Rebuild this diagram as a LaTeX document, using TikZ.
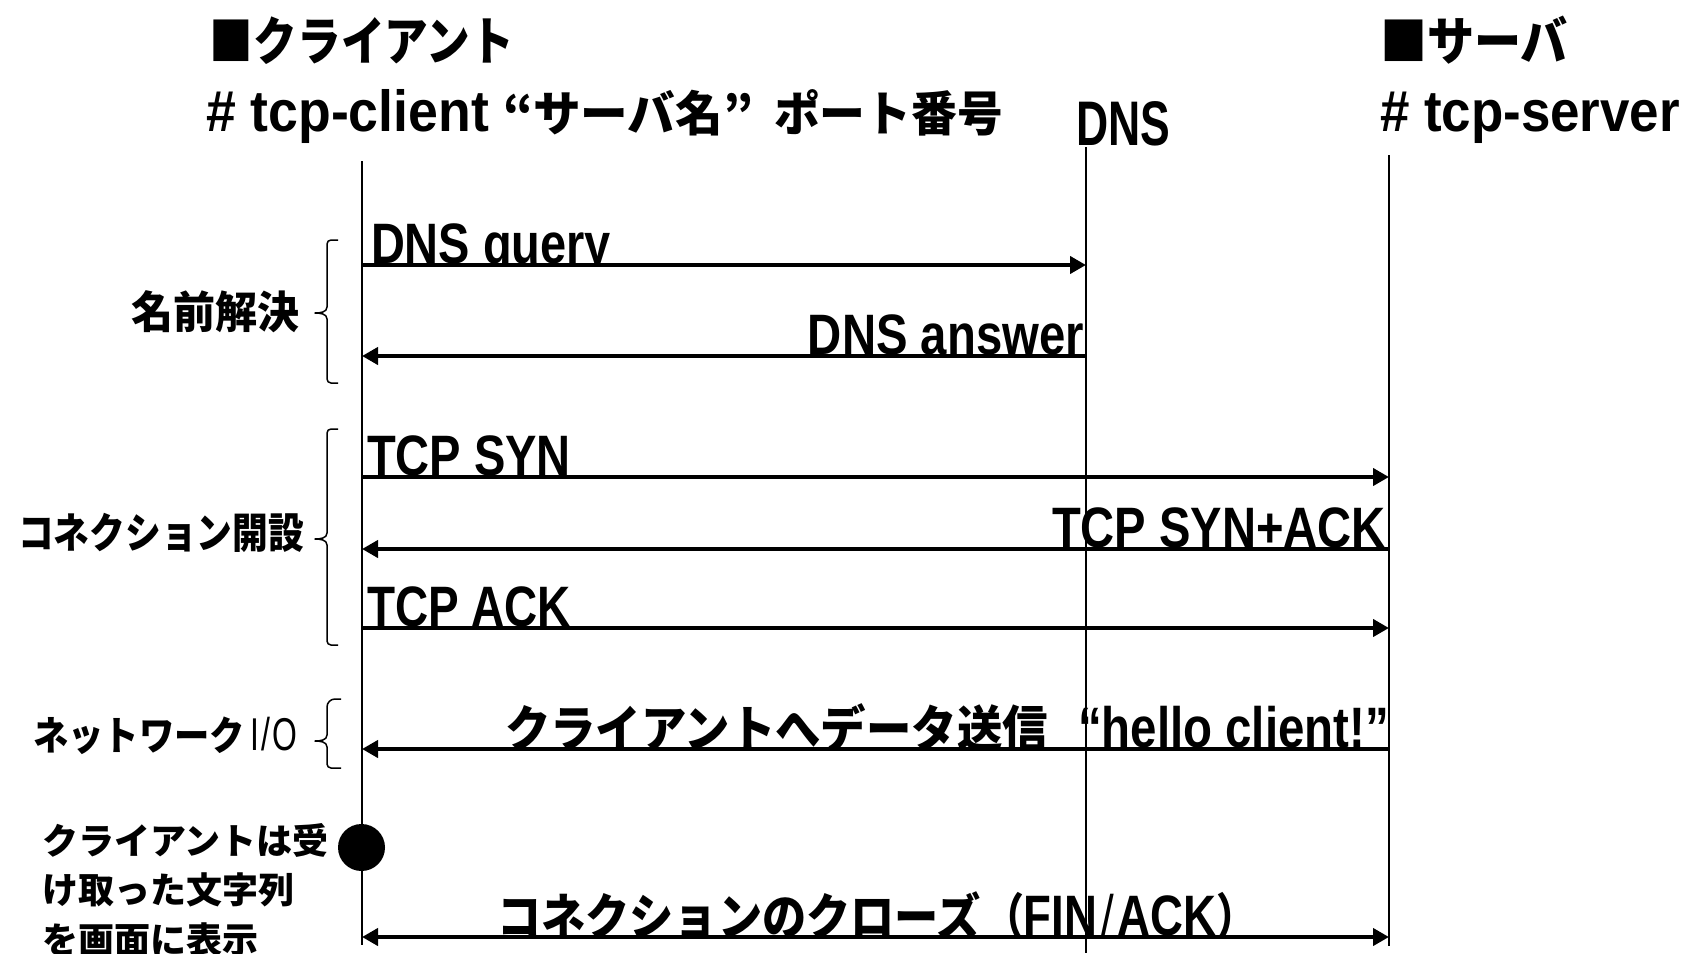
\documentclass[tikz,border=0pt]{standalone}
\usepackage{fontspec}
\usepackage{graphicx}
\setmainfont{Liberation Sans}
\newfontfamily\jp{Noto Sans CJK JP}
\usetikzlibrary{arrows.meta}
\newcommand{\fitw}[2]{\resizebox{#1pt}{\height}{#2}}
\newcommand{\latf}[2]{{\fontsize{#1}{#1}\selectfont\bfseries #2}}
\newcommand{\jpf}[2]{{\jp\bfseries\fontsize{#1}{#1}\selectfont #2}}
\tikzset{
  life/.style={line width=1.8pt},
  msg/.style={line width=4.5pt, -{Triangle[length=16pt,width=17pt]}},
  msgboth/.style={line width=4.5pt, {Triangle[length=16pt,width=17pt]}-{Triangle[length=16pt,width=17pt]}},
  lbl/.style={inner sep=0pt, outer sep=0pt},
  bracepath/.style={line width=1.5pt, line join=round},
  dot/.style={circle, fill=black, inner sep=0pt, minimum size=47pt},
}
\begin{document}
\begin{tikzpicture}[x=1pt,y=-1pt]
\useasboundingbox[fill=white] (0,0) rectangle (1686,953);

% headers
\node[lbl] (hcl) at (362,40.5) {\fitw{304}{\jpf{52}{■クライアント}}};
\node[lbl] (hsv) at (1474,40.5) {\fitw{188}{\jpf{52}{■サーバ}}};
\node[lbl, anchor=base west] (ccmd) at (206,131) {\fitw{283}{\latf{58}{\# tcp-client}}\hspace{14pt}\fitw{250}{\jpf{48}{“サーバ名”}}\hspace{21pt}\fitw{229}{\jpf{48}{ポート番号}}};
\node[lbl, anchor=base west] (dnsh) at (1076,145) {\fitw{94}{\latf{63}{DNS}}};
\node[lbl, anchor=base west] (scmd) at (1380,131) {\fitw{300}{\latf{58}{\# tcp-server}}};

% lifelines
\coordinate (ctop) at (362,161);
\coordinate (cbot) at (362,945);
\coordinate (dtop) at (1086,147);
\coordinate (dbot) at (1086,953);
\coordinate (stop) at (1389,155);
\coordinate (sbot) at (1389,946);

% message end points
\coordinate (c1) at (362,265);   \coordinate (d1) at (1086,265);
\coordinate (c2) at (362,356);   \coordinate (d2) at (1086,356);
\coordinate (c3) at (362,477);   \coordinate (s3) at (1389,477);
\coordinate (c4) at (362,549);   \coordinate (s4) at (1389,549);
\coordinate (c5) at (362,628);   \coordinate (s5) at (1389,628);
\coordinate (c6) at (362,749);   \coordinate (s6) at (1389,749);
\coordinate (c7) at (362,937);   \coordinate (s7) at (1389,937);

% message labels (clipped at the arrow line)
\begin{scope}\clip (360,200) rectangle (1090,263);
\node[lbl, anchor=base west] (l1) at (371,263) {\fitw{240}{\latf{57}{DNS query}}};
\end{scope}
\begin{scope}\clip (700,290) rectangle (1090,354);
\node[lbl, anchor=base east] (l2) at (1084,354) {\fitw{276}{\latf{57}{DNS answer}}};
\end{scope}
\begin{scope}\clip (360,410) rectangle (1100,475);
\node[lbl, anchor=base west] (l3) at (367,475) {\fitw{204}{\latf{57}{TCP SYN}}};
\end{scope}
\begin{scope}\clip (1000,490) rectangle (1390,547);
\node[lbl, anchor=base east] (l4) at (1386,547) {\fitw{334}{\latf{57}{TCP SYN+ACK}}};
\end{scope}
\begin{scope}\clip (360,570) rectangle (1100,626);
\node[lbl, anchor=base west] (l5) at (367,626) {\fitw{204}{\latf{57}{TCP ACK}}};
\end{scope}
\begin{scope}\clip (480,690) rectangle (1392,747);
\node[lbl, anchor=base west] (l6) at (505,747) {\fitw{543}{\jpf{50}{クライアントへデータ送信}}\hspace{30pt}\fitw{311}{\latf{57}{“hello client!”}}};
\end{scope}
\begin{scope}\clip (480,870) rectangle (1300,935);
\node[lbl, anchor=base west] (l7) at (497,935) {\fitw{484}{\jpf{50}{コネクションのクローズ}}\hspace{3pt}\fitw{272}{\jpf{50}{（}\latf{57}{FIN\hspace{5pt}{\mdseries/}\hspace{4pt}ACK}\jpf{50}{）}}};
\end{scope}

% lifelines drawn
\draw[life] (ctop) -- (cbot);
\draw[life] (dtop) -- (dbot);
\draw[life] (stop) -- (sbot);

% messages
\draw[msg] (c1) -- (d1);
\draw[msg] (d2) -- (c2);
\draw[msg] (c3) -- (s3);
\draw[msg] (s4) -- (c4);
\draw[msg] (c5) -- (s5);
\draw[msg] (s6) -- (c6);
\draw[msgboth] (c7) -- (s7);

% phase labels
\node[lbl] (p1) at (215,311.5) {\fitw{168}{\jpf{44}{名前解決}}};
\node[lbl] (p2) at (161,532.5) {\fitw{286}{\jpf{42}{コネクション開設}}};
\node[lbl, anchor=base west] (p3) at (33,750) {\fitw{212}{\jpf{40}{ネットワーク}}\hspace{6pt}\fitw{46}{{\fontsize{46}{46}\selectfont I\hspace{3pt}/\hspace{2pt}O}}};

% braces
\draw[bracepath] (338,240) -- (331,240) to[out=180,in=90] (327,244) -- (327,307) to[out=-90,in=0] (315,313) to[out=0,in=90] (327,319) -- (327,379) to[out=-90,in=180] (331,383) -- (338,383);
\draw[bracepath] (338,429) -- (331,429) to[out=180,in=90] (327,433) -- (327,533) to[out=-90,in=0] (315,539) to[out=0,in=90] (327,545) -- (327,641) to[out=-90,in=180] (331,645) -- (338,645);
\draw[bracepath] (341,699) -- (335,699) to[out=180,in=90] (327,707) -- (327,735) to[out=-90,in=0] (315,741) to[out=0,in=90] (327,747) -- (327,764) to[out=-90,in=180] (331,768) -- (341,768);

% display event
\node[dot] (ev) at (361.5,847.5) {};
\node[lbl, anchor=north west, align=left, font={\jp\bfseries\fontsize{36}{49.5}\selectfont}] (note) at (42,823) {クライアントは受\\け取った文字列\\を画面に表示};
\end{tikzpicture}
\end{document}
